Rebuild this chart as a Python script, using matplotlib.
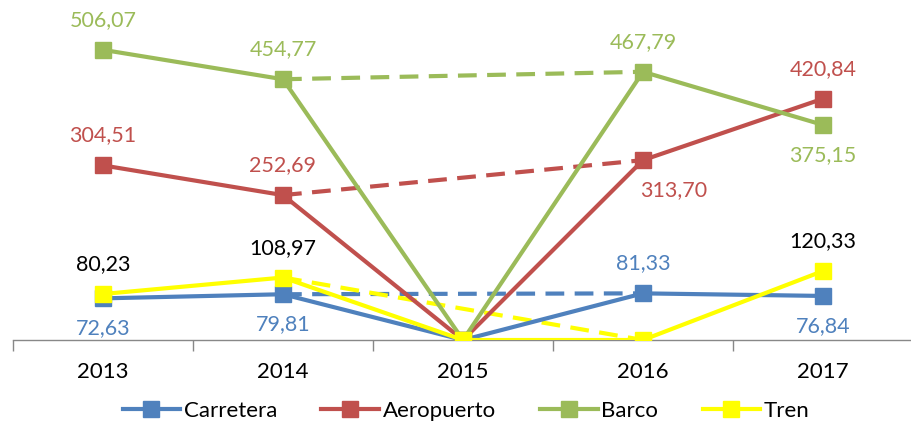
import matplotlib
matplotlib.use("Agg")
import matplotlib.pyplot as plt
import numpy as np

years = ["2013", "2014", "2015", "2016", "2017"]
carretera = [72.63, 79.81, 0, 81.33, 76.84]
aeropuerto = [304.51, 252.69, 0, 313.70, 420.84]
barco = [506.07, 454.77, 0, 467.79, 375.15]
tren = [80.23, 108.97, 0, 0, 120.33]

# label placement: +1 above, -1 below, 0 none
carretera_pos = [-1, -1, 0, 1, -1]
aeropuerto_pos = [1, 1, 0, -1, 1]
barco_pos = [1, 1, 0, 1, -1]
tren_pos = [1, 1, 0, 0, 1]

names = ["Carretera", "Aeropuerto", "Barco", "Tren"]
colors = ["#4F81BD", "#C0504D", "#9BBB59", "#FFFF00"]
label_colors = ["#4F81BD", "#C0504D", "#9BBB59", "#000000"]

plt.rcParams['font.family'] = ['Lato', 'DejaVu Sans']

fig = plt.figure(figsize=(9.12, 4.23), dpi=100)
ax = fig.add_axes([13/912, 83/423, 900/912, 340/423])

x = np.arange(len(years))
series = [carretera, aeropuerto, barco, tren]
positions = [carretera_pos, aeropuerto_pos, barco_pos, tren_pos]

lw = 3.0
for i, (vals, name, c) in enumerate(zip(series, names, colors)):
    ax.plot(x, vals, color=c, lw=lw, marker='s', markersize=11.5,
            markeredgecolor=c, label=name, zorder=3 + i * 0.1)

# dashed bridging lines 2014 -> 2016
for i, (vals, c) in enumerate(zip(series, colors)):
    ax.plot([x[1], x[3]], [vals[1], vals[3]], color=c, lw=lw,
            linestyle=(0, (4.5, 2.5)), zorder=2.5)

for si, (vals, pos, lc) in enumerate(zip(series, positions, label_colors)):
    for xi, v, p in zip(x, vals, pos):
        if p == 0:
            continue
        dx = 22 if (si == 1 and xi == 3) else 0
        txt = f"{v:.2f}".replace('.', ',')
        ax.annotate(txt, (xi, v), xytext=(dx, 21.5 * p), textcoords='offset points',
                    ha='center', va='center', fontsize=15.5, color=lc)

ax.set_xlim(-0.5, 4.5)
ax.set_ylim(0, 593)
ax.set_yticks([])
ax.set_xticks(x)
ax.set_xticklabels(years, fontsize=16)
ax.set_xticks(np.arange(-0.5, 5.0, 1.0), minor=True)
ax.tick_params(axis='x', which='major', length=0, pad=16)
ax.tick_params(axis='x', which='minor', length=8, color='#888888', width=1)
for s in ['top', 'right', 'left']:
    ax.spines[s].set_visible(False)
ax.spines['bottom'].set_color('#888888')
ax.spines['bottom'].set_linewidth(1)
ax.patch.set_alpha(0)

leg = fig.legend(loc='center', bbox_to_anchor=(466/912, 1 - 411/423), ncol=4,
                 frameon=False, fontsize=16, handlelength=2.6, columnspacing=2.0,
                 handletextpad=0.15, borderaxespad=0)

fig.savefig("out.png", dpi=100)
